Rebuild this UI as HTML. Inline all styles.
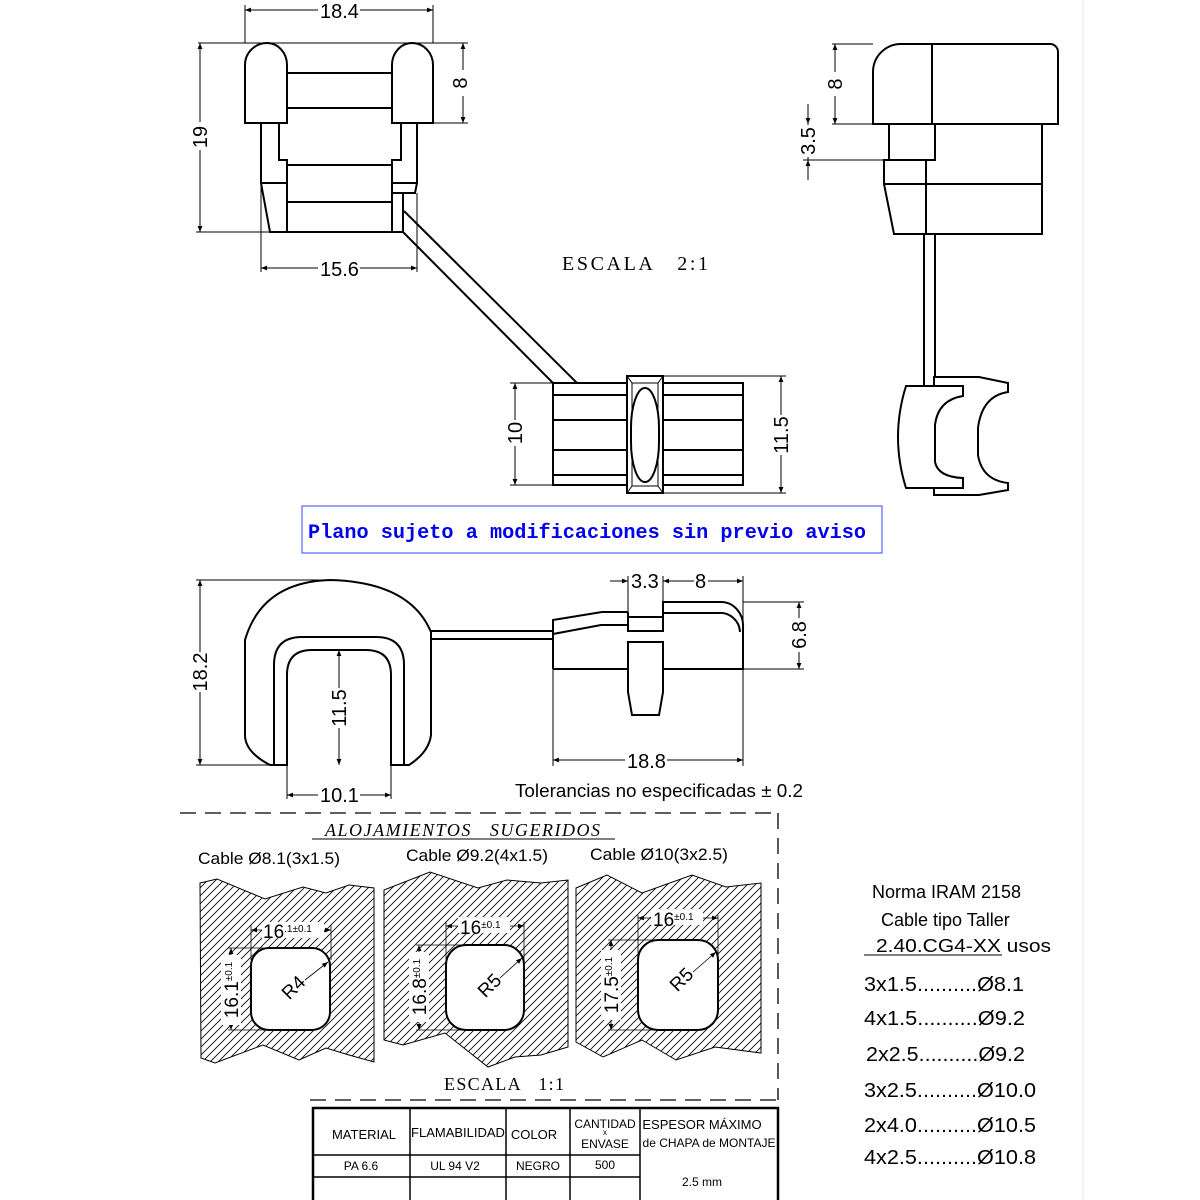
<!DOCTYPE html>
<html><head><meta charset="utf-8"><style>
html,body{margin:0;padding:0;background:#fff}
svg{display:block}
text{font-family:"Liberation Sans",sans-serif;fill:#000}
.s{font-family:"Liberation Serif",serif}
.m{font-family:"Liberation Mono",monospace;fill:#0000ee}
</style></head><body>
<svg width="1200" height="1200" viewBox="0 0 1200 1200" xmlns="http://www.w3.org/2000/svg">
<defs>
<marker id="a" viewBox="0 0 10 10" refX="10" refY="5" markerWidth="9" markerHeight="6" markerUnits="userSpaceOnUse" orient="auto-start-reverse"><path d="M0,1 L10,5 L0,9 Z" fill="#000"/></marker>
<pattern id="h" width="8" height="8" patternUnits="userSpaceOnUse"><path d="M0,8 L8,0 M-2,2 L2,-2 M6,10 L10,6" stroke="#000" stroke-width="0.8"/></pattern>
</defs>
<line x1="1083" y1="0" x2="1083" y2="1200" stroke="#e4e4e4" stroke-width="1"/>

<!-- ===== TOP-LEFT VIEW ===== -->
<g fill="none" stroke="#000" stroke-width="2">
<path d="M245,123 V65 A22,22 0 0 1 267,43 A20,22 0 0 1 287,65 V123 Z"/>
<path d="M392,123 V65 A20,22 0 0 1 412,43 A21,22 0 0 1 433,65 V123 Z"/>
<line x1="287" y1="73" x2="392" y2="73"/><line x1="287" y1="108" x2="392" y2="108"/>
<path d="M261,123 V183 L270,232 H403"/>
<path d="M279,123 V160 H287 V165 H392 V160 H401 V123"/>
<path d="M417,123 V183 L415,193 H392"/>
<line x1="261" y1="183" x2="287" y2="183"/><line x1="392" y1="183" x2="417" y2="183"/>
<line x1="287" y1="165" x2="287" y2="232"/><line x1="392" y1="160" x2="392" y2="232"/>
<line x1="287" y1="202" x2="392" y2="202"/>
<line x1="403" y1="193" x2="403" y2="232"/>
<line x1="404" y1="211" x2="577" y2="383"/><line x1="403" y1="232" x2="553" y2="383"/>
</g>
<g stroke="#000" stroke-width="1" fill="none">
<line x1="245" y1="5" x2="245" y2="43"/><line x1="433" y1="5" x2="433" y2="43"/>
<line x1="245" y1="10" x2="433" y2="10" marker-start="url(#a)" marker-end="url(#a)"/>
<line x1="198" y1="43" x2="468" y2="43"/><line x1="433" y1="123" x2="468" y2="123"/>
<line x1="463" y1="43" x2="463" y2="123" marker-start="url(#a)" marker-end="url(#a)"/>
<line x1="196" y1="232" x2="270" y2="232"/>
<line x1="200" y1="43" x2="200" y2="232" marker-start="url(#a)" marker-end="url(#a)"/>
<line x1="261" y1="183" x2="261" y2="272"/><line x1="417" y1="193" x2="417" y2="272"/>
<line x1="261" y1="268" x2="417" y2="268" marker-start="url(#a)" marker-end="url(#a)"/>
</g>
<rect x="318" y="2" width="42" height="18" fill="#fff"/><text x="320" y="18" font-size="20">18.4</text>
<rect x="454" y="70" width="18" height="26" fill="#fff"/><text x="470" y="83" font-size="20" transform="rotate(-90 470 83)" text-anchor="middle" dy="-3">8</text>
<rect x="190" y="122" width="20" height="28" fill="#fff"/><text x="207" y="137" font-size="20" transform="rotate(-90 207 137)" text-anchor="middle">19</text>
<rect x="318" y="260" width="42" height="18" fill="#fff"/><text x="320" y="276" font-size="20">15.6</text>
<text x="562" y="270" class="s" font-size="20" textLength="146" lengthAdjust="spacing" xml:space="preserve">ESCALA   2:1</text>

<!-- ===== BOTTOM-MIDDLE (holder) ===== -->
<g fill="none" stroke="#000" stroke-width="2">
<rect x="553" y="383" width="190" height="102"/>
<line x1="553" y1="395" x2="743" y2="395"/><line x1="553" y1="420" x2="743" y2="420"/>
<line x1="553" y1="450" x2="743" y2="450"/><line x1="553" y1="475" x2="743" y2="475"/>
<rect x="627" y="376" width="36" height="117" fill="#fff"/>
<rect x="632" y="383" width="26" height="103" stroke-width="1"/>
<path d="M627,376 L632,383 M663,376 L658,383 M627,493 L632,486 M663,493 L658,486" stroke-width="1"/>
<rect x="631" y="388" width="28" height="94" rx="14" ry="40" fill="#fff"/>
</g>
<g stroke="#000" stroke-width="1" fill="none">
<line x1="510" y1="383" x2="553" y2="383"/><line x1="510" y1="485" x2="553" y2="485"/>
<line x1="515" y1="383" x2="515" y2="485" marker-start="url(#a)" marker-end="url(#a)"/>
<line x1="663" y1="376" x2="786" y2="376"/><line x1="663" y1="493" x2="786" y2="493"/>
<line x1="781" y1="376" x2="781" y2="493" marker-start="url(#a)" marker-end="url(#a)"/>
</g>
<rect x="505" y="420" width="20" height="26" fill="#fff"/><text x="522" y="433" font-size="20" transform="rotate(-90 522 433)" text-anchor="middle">10</text>
<rect x="771" y="415" width="20" height="40" fill="#fff"/><text x="788" y="435" font-size="20" transform="rotate(-90 788 435)" text-anchor="middle">11.5</text>

<!-- ===== RIGHT VIEW ===== -->
<g fill="none" stroke="#000" stroke-width="2">
<path d="M873,124 V72 A28,28 0 0 1 901,44 H1050 A8,8 0 0 1 1058,52 V124 Z"/>
<line x1="932" y1="44" x2="932" y2="124"/>
<path d="M889,124 V160 H935 V124"/>
<path d="M1042,124 V234 H894 L884,184 V160 H926 V234"/>
<line x1="884" y1="184" x2="1042" y2="184"/>
<line x1="924" y1="234" x2="924" y2="386"/><line x1="935" y1="234" x2="935" y2="378"/>
<path d="M934,377 H979 L1008,383 V392 Q982,396 978,428 V455 Q982,480 1008,483 V490 L979,495 H934 Z" fill="#fff"/>
<path d="M906,386 H963 V396 Q938,400 935,425 V462 Q938,477 963,478 V488 H906 Q890,437 906,386 Z" fill="#fff"/>
</g>
<g stroke="#000" stroke-width="1" fill="none">
<line x1="832" y1="44" x2="873" y2="44"/><line x1="832" y1="124" x2="889" y2="124"/>
<line x1="835" y1="44" x2="835" y2="124" marker-start="url(#a)" marker-end="url(#a)"/>
<line x1="803" y1="160" x2="889" y2="160"/>
<line x1="808" y1="104" x2="808" y2="124" marker-end="url(#a)"/>
<line x1="808" y1="180" x2="808" y2="160" marker-end="url(#a)"/>
<line x1="808" y1="124" x2="808" y2="160"/>
</g>
<rect x="826" y="72" width="18" height="24" fill="#fff"/><text x="842" y="84" font-size="20" transform="rotate(-90 842 84)" text-anchor="middle">8</text>
<rect x="798" y="125" width="20" height="32" fill="#fff"/><text x="815" y="141" font-size="20" transform="rotate(-90 815 141)" text-anchor="middle">3.5</text>

<!-- Blue box -->
<rect x="302" y="506" width="580" height="47" fill="#fff" stroke="#3344ff" stroke-width="1"/>
<text x="308" y="538" class="m" font-size="20" font-weight="bold" textLength="558" lengthAdjust="spacingAndGlyphs" xml:space="preserve">Plano sujeto a modificaciones sin previo aviso</text>

<!-- ===== BOTTOM-LEFT U VIEW ===== -->
<g fill="none" stroke="#000" stroke-width="2">
<path d="M270,765 Q245,752 245,735 V640 Q262,582 330,580 Q410,582 431,632 V735 Q429,752 409,765 H391 V675 Q391,650 366,650 H312 Q287,650 287,675 V765 Z"/>
<path d="M274,765 V665 Q274,637 302,637 H376 Q404,637 404,665 V765"/>
<line x1="431" y1="631" x2="553" y2="631"/><line x1="431" y1="639" x2="553" y2="639"/>
<path d="M553,669 V620 L602,612 H628"/>
<path d="M553,634 L601,625 H628"/>
<rect x="628" y="617" width="35" height="14"/>
<line x1="628" y1="612" x2="628" y2="617"/>
<path d="M663,631 V602 H720 A22,24 0 0 1 743,628 V669 H553"/>
<path d="M663,613 H718 A20,20 0 0 1 740,632"/>
<path d="M628,669 V642 H663 V669 M628,669 V692 L632,715 H659 L663,692 V669" fill="#fff"/>
</g>
<g stroke="#000" stroke-width="1" fill="none">
<line x1="196" y1="580" x2="330" y2="580"/><line x1="196" y1="765" x2="270" y2="765"/>
<line x1="200" y1="580" x2="200" y2="765" marker-start="url(#a)" marker-end="url(#a)"/>
<line x1="339" y1="650" x2="339" y2="765" marker-start="url(#a)" marker-end="url(#a)"/>
<line x1="287" y1="765" x2="287" y2="799"/><line x1="391" y1="765" x2="391" y2="799"/>
<line x1="287" y1="795" x2="391" y2="795" marker-start="url(#a)" marker-end="url(#a)"/>
<line x1="628" y1="576" x2="628" y2="612"/><line x1="663" y1="576" x2="663" y2="602"/><line x1="743" y1="576" x2="743" y2="628"/>
<line x1="610" y1="581" x2="628" y2="581" marker-end="url(#a)"/>
<line x1="663" y1="581" x2="743" y2="581" marker-start="url(#a)" marker-end="url(#a)"/>
<line x1="743" y1="602" x2="804" y2="602"/><line x1="743" y1="669" x2="804" y2="669"/>
<line x1="799" y1="602" x2="799" y2="669" marker-start="url(#a)" marker-end="url(#a)"/>
<line x1="553" y1="669" x2="553" y2="766"/><line x1="743" y1="669" x2="743" y2="766"/>
<line x1="553" y1="760" x2="743" y2="760" marker-start="url(#a)" marker-end="url(#a)"/>
</g>
<rect x="190" y="652" width="20" height="40" fill="#fff"/><text x="207" y="672" font-size="20" transform="rotate(-90 207 672)" text-anchor="middle">18.2</text>
<rect x="329" y="688" width="20" height="40" fill="#fff"/><text x="346" y="708" font-size="20" transform="rotate(-90 346 708)" text-anchor="middle">11.5</text>
<rect x="318" y="786" width="42" height="18" fill="#fff"/><text x="320" y="802" font-size="20">10.1</text>
<rect x="630" y="571" width="32" height="18" fill="#fff"/><text x="631" y="588" font-size="20">3.3</text>
<rect x="694" y="571" width="14" height="18" fill="#fff"/><text x="695" y="588" font-size="20">8</text>
<rect x="789" y="618" width="20" height="34" fill="#fff"/><text x="806" y="635" font-size="20" transform="rotate(-90 806 635)" text-anchor="middle">6.8</text>
<rect x="625" y="751" width="42" height="18" fill="#fff"/><text x="627" y="768" font-size="20">18.8</text>
<text x="515" y="797" font-size="18" textLength="288" lengthAdjust="spacingAndGlyphs">Tolerancias no especificadas ± 0.2</text>

<!-- ===== DASHED FRAME ===== -->
<g stroke="#000" stroke-width="1.3" fill="none" stroke-dasharray="16,9">
<line x1="180" y1="813" x2="778" y2="813"/>
<line x1="778" y1="813" x2="778" y2="1100"/>
<line x1="310" y1="1100" x2="778" y2="1100"/>
</g>
<text x="325" y="836" class="s" font-size="18" font-style="italic" textLength="275" lengthAdjust="spacing" xml:space="preserve">ALOJAMIENTOS   SUGERIDOS</text>
<line x1="312" y1="839" x2="615" y2="839" stroke="#000" stroke-width="1"/>
<text x="198" y="864" font-size="17" textLength="142" lengthAdjust="spacingAndGlyphs">Cable Ø8.1(3x1.5)</text>
<text x="406" y="861" font-size="17" textLength="142" lengthAdjust="spacingAndGlyphs">Cable Ø9.2(4x1.5)</text>
<text x="590" y="860" font-size="17" textLength="138" lengthAdjust="spacingAndGlyphs">Cable Ø10(3x2.5)</text>

<g stroke="#000" stroke-width="1" fill="url(#h)">
<path d="M200,883 L217,879 L265,899 L303,887 L326,893 L349,885 L374,888 V1062 L349,1055 L326,1048 L299,1060 L263,1045 L215,1063 L201,1058 Z"/>
<path d="M384,890 L430,872 L478,888 L507,880 L541,883 L568,880 V1047 L541,1055 L515,1057 L488,1067 L445,1033 L403,1045 L384,1040 Z"/>
<path d="M576,888 L607,875 L642,893 L692,875 L726,887 L761,883 V1053 L715,1047 L676,1060 L642,1040 L603,1057 L576,1042 Z"/>
</g>
<g stroke="#000" stroke-width="2" fill="#fff">
<rect x="251" y="948" width="79" height="82" rx="18"/>
<rect x="446" y="945" width="78" height="85" rx="20"/>
<rect x="638" y="940" width="80" height="90" rx="20"/>
</g>
<g stroke="#000" stroke-width="0.8" fill="none">
<line x1="251" y1="925" x2="251" y2="960"/><line x1="331" y1="925" x2="331" y2="960"/>
<line x1="251" y1="930" x2="331" y2="930" marker-start="url(#a)" marker-end="url(#a)"/>
<line x1="228" y1="948" x2="275" y2="948"/><line x1="228" y1="1030" x2="275" y2="1030"/>
<line x1="231" y1="948" x2="231" y2="1030" marker-start="url(#a)" marker-end="url(#a)"/>
<line x1="305" y1="980" x2="328" y2="962" marker-end="url(#a)"/>
<line x1="446" y1="922" x2="446" y2="960"/><line x1="524" y1="922" x2="524" y2="960"/>
<line x1="446" y1="926" x2="524" y2="926" marker-start="url(#a)" marker-end="url(#a)"/>
<line x1="416" y1="945" x2="470" y2="945"/><line x1="416" y1="1030" x2="470" y2="1030"/>
<line x1="419" y1="945" x2="419" y2="1030" marker-start="url(#a)" marker-end="url(#a)"/>
<line x1="500" y1="978" x2="522" y2="958" marker-end="url(#a)"/>
<line x1="638" y1="915" x2="638" y2="960"/><line x1="718" y1="915" x2="718" y2="960"/>
<line x1="638" y1="918" x2="718" y2="918" marker-start="url(#a)" marker-end="url(#a)"/>
<line x1="608" y1="940" x2="660" y2="940"/><line x1="608" y1="1030" x2="660" y2="1030"/>
<line x1="611" y1="940" x2="611" y2="1030" marker-start="url(#a)" marker-end="url(#a)"/>
<line x1="693" y1="972" x2="716" y2="952" marker-end="url(#a)"/>
</g>
<g font-size="19">
<rect x="262" y="922" width="62" height="16" fill="#fff"/><text x="263" y="938">16<tspan font-size="10" dy="-6">.1±0.1</tspan></text>
<rect x="458" y="917" width="52" height="16" fill="#fff"/><text x="460" y="934">16<tspan font-size="10" dy="-6">±0.1</tspan></text>
<rect x="651" y="909" width="52" height="16" fill="#fff"/><text x="653" y="926">16<tspan font-size="10" dy="-6">±0.1</tspan></text>
<rect x="221" y="955" width="20" height="70" fill="#fff"/><text x="238" y="990" transform="rotate(-90 238 990)" text-anchor="middle">16.1<tspan font-size="10" dy="-6">±0.1</tspan></text>
<rect x="409" y="952" width="20" height="70" fill="#fff"/><text x="426" y="987" transform="rotate(-90 426 987)" text-anchor="middle">16.8<tspan font-size="10" dy="-6">±0.1</tspan></text>
<rect x="601" y="950" width="20" height="70" fill="#fff"/><text x="618" y="985" transform="rotate(-90 618 985)" text-anchor="middle">17.5<tspan font-size="10" dy="-6">±0.1</tspan></text>
<text x="298" y="992" transform="rotate(-45 298 992)" text-anchor="middle">R4</text>
<text x="494" y="990" transform="rotate(-45 494 990)" text-anchor="middle">R5</text>
<text x="686" y="984" transform="rotate(-45 686 984)" text-anchor="middle">R5</text>
</g>
<text x="444" y="1090" class="s" font-size="18" textLength="120" lengthAdjust="spacing" xml:space="preserve">ESCALA   1:1</text>

<!-- ===== TABLE ===== -->
<g stroke="#000" fill="none">
<path d="M313,1200 V1108 H778 V1200" stroke-width="2.5"/>
<line x1="313" y1="1155" x2="640" y2="1155" stroke-width="1.5"/>
<line x1="313" y1="1177" x2="640" y2="1177" stroke-width="1.5"/>
<line x1="410" y1="1108" x2="410" y2="1200" stroke-width="1.5"/>
<line x1="506" y1="1108" x2="506" y2="1200" stroke-width="1.5"/>
<line x1="570" y1="1108" x2="570" y2="1200" stroke-width="1.5"/>
<line x1="640" y1="1108" x2="640" y2="1200" stroke-width="1.5"/>
</g>
<g font-size="13" text-anchor="middle">
<text x="364" y="1139">MATERIAL</text>
<text x="458" y="1137">FLAMABILIDAD</text>
<text x="534" y="1139">COLOR</text>
<text x="605" y="1128" font-size="12">CANTIDAD</text>
<text x="605" y="1135" font-size="8">x</text>
<text x="605" y="1148" font-size="12">ENVASE</text>
<text x="702" y="1129">ESPESOR MÁXIMO</text>
<text x="709" y="1147" font-size="12">de CHAPA de MONTAJE</text>
<text x="361" y="1170" font-size="12">PA 6.6</text>
<text x="455" y="1170" font-size="12">UL 94 V2</text>
<text x="538" y="1170" font-size="12">NEGRO</text>
<text x="605" y="1169" font-size="12">500</text>
<text x="702" y="1186" font-size="12">2.5 mm</text>
</g>

<!-- ===== RIGHT TEXT ===== -->
<g font-size="18">
<text x="872" y="898">Norma IRAM 2158</text>
<text x="881" y="926">Cable tipo Taller</text>
<text x="876" y="952" textLength="175" lengthAdjust="spacingAndGlyphs">2.40.CG4-XX usos</text>
</g>
<line x1="864" y1="955" x2="1002" y2="955" stroke="#000" stroke-width="1"/>
<g font-size="20">
<text x="864" y="991" textLength="160" lengthAdjust="spacingAndGlyphs">3x1.5..........Ø8.1</text>
<text x="864" y="1025" textLength="161" lengthAdjust="spacingAndGlyphs">4x1.5..........Ø9.2</text>
<text x="866" y="1061" textLength="159" lengthAdjust="spacingAndGlyphs">2x2.5..........Ø9.2</text>
<text x="864" y="1097" textLength="172" lengthAdjust="spacingAndGlyphs">3x2.5..........Ø10.0</text>
<text x="864" y="1132" textLength="172" lengthAdjust="spacingAndGlyphs">2x4.0..........Ø10.5</text>
<text x="864" y="1164" textLength="172" lengthAdjust="spacingAndGlyphs">4x2.5..........Ø10.8</text>
</g>
</svg>
</body></html>
